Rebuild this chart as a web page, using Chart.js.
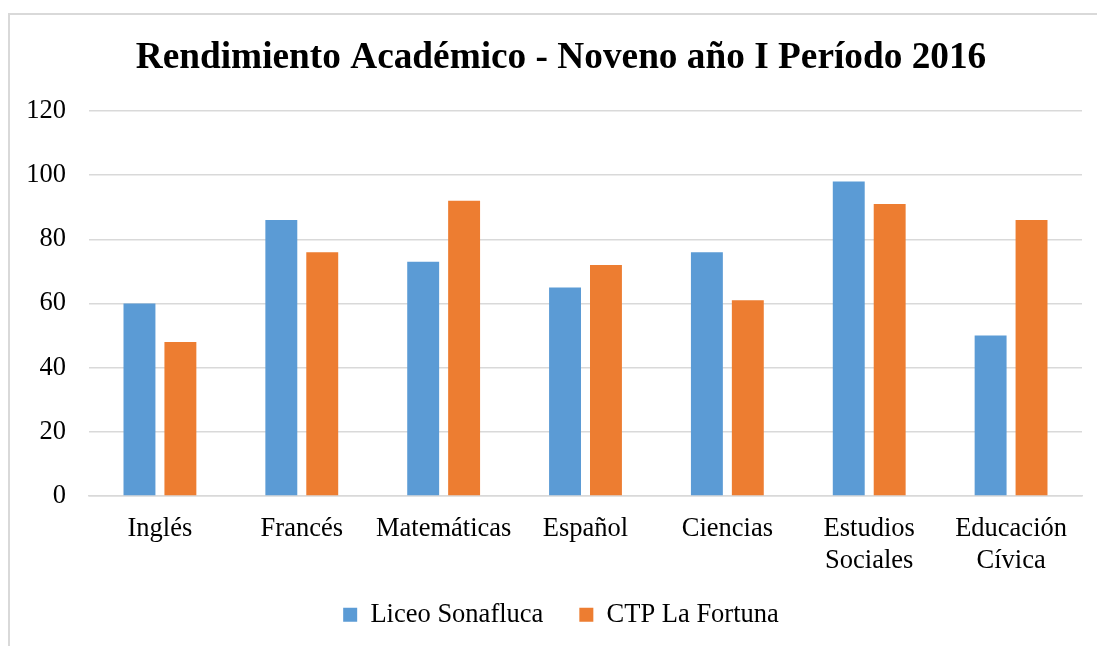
<!DOCTYPE html>
<html lang="es">
<head>
    <meta charset="UTF-8">
    <title>Rendimiento Académico</title>
    <script src="https://cdn.jsdelivr.net/npm/chart.js"></script>
    <style>
        body {
            margin: 0;
            background: #ffffff;
            overflow: hidden;
            width: 1097px;
            height: 646px;
        }
        #frame {
            position: absolute;
            left: 8px;
            top: 13px;
            width: 1200px;
            height: 800px;
            border-left: 2px solid #d9d9d9;
            border-top: 2px solid #d9d9d9;
        }
        #myChart {
            position: absolute;
            left: 0;
            top: 0;
        }
    </style>
</head>
<body>
    <div id="frame"></div>
    <canvas id="myChart" width="1122" height="700"></canvas>

<script>
    var materias = ['Inglés', 'Francés', 'Matemáticas', 'Español', 'Ciencias',
                    ['Estudios', 'Sociales'], ['Educación', 'Cívica']];
    var liceoSonafluca = [60, 86, 73, 65, 76, 98, 50];
    var ctpLaFortuna = [48, 76, 92, 72, 61, 91, 86];
    var yTicks = [0, 20, 40, 60, 80, 100, 120];

    var serif = "'Liberation Serif', 'Times New Roman', serif";

    // pull the legend up closer to the category labels, as in the original
    var legendShift = {
        id: 'legendShift',
        afterLayout: function (chart) {
            var lg = chart.legend;
            var top = chart.chartArea.bottom + 69.5;
            lg.bottom = top + lg.height;
            lg.top = top;
        }
    };

    var ctx = document.getElementById('myChart').getContext('2d');
    var myChart = new Chart(ctx, {
        type: 'bar',
        data: {
            labels: materias,
            datasets: [{
                label: 'Liceo Sonafluca',
                data: liceoSonafluca,
                yAxisID: 'y',
                backgroundColor: '#5b9bd5',
                categoryPercentage: 0.577,
                barPercentage: 0.78
            },
            {
                label: 'CTP La Fortuna',
                data: ctpLaFortuna,
                yAxisID: 'y',
                backgroundColor: '#ed7d31',
                categoryPercentage: 0.577,
                barPercentage: 0.78
            }]
        },
        plugins: [legendShift],
        options: {
            responsive: false,
            animation: false,
            layout: {
                padding: { left: 0, right: 0, top: 0, bottom: 31.5 }
            },
            plugins: {
                title: {
                    display: true,
                    text: 'Rendimiento Académico - Noveno año I Período 2016',
                    color: '#000000',
                    font: { family: serif, size: 37.3, weight: 'bold' },
                    padding: { top: 36, bottom: 30.2 }
                },
                legend: {
                    position: 'bottom',
                    labels: {
                        color: '#000000',
                        font: { family: serif, size: 26.5 },
                        boxWidth: 14,
                        boxHeight: 14,
                        padding: 36
                    }
                },
                tooltip: { enabled: false }
            },
            scales: {
                x: {
                    afterFit: function (scale) {
                        scale.height = 100;
                    },
                    grid: { display: false, drawTicks: false },
                    border: { color: '#d9d9d9', width: 1.5 },
                    ticks: {
                        color: '#000000',
                        font: { family: serif, size: 26.5 },
                        padding: 17,
                        autoSkip: false,
                        maxRotation: 0
                    }
                },
                y: {
                    min: 0,
                    max: 120,
                    afterBuildTicks: function (scale) {
                        scale.ticks = yTicks.map(function (v) { return { value: v }; });
                    },
                    afterFit: function (scale) {
                        scale.width = 89;
                    },
                    grid: { color: '#d9d9d9', lineWidth: 1.5, drawTicks: false },
                    border: { display: false },
                    ticks: {
                        color: '#000000',
                        font: { family: serif, size: 26.5 },
                        padding: 23
                    }
                },
                // empty axis on the right so title and legend centre like the original
                yRight: {
                    position: 'right',
                    afterFit: function (scale) {
                        scale.width = 40;
                    },
                    grid: { display: false, drawTicks: false },
                    border: { display: false },
                    ticks: { display: false }
                }
            }
        }
    });
</script>
</body>
</html>
